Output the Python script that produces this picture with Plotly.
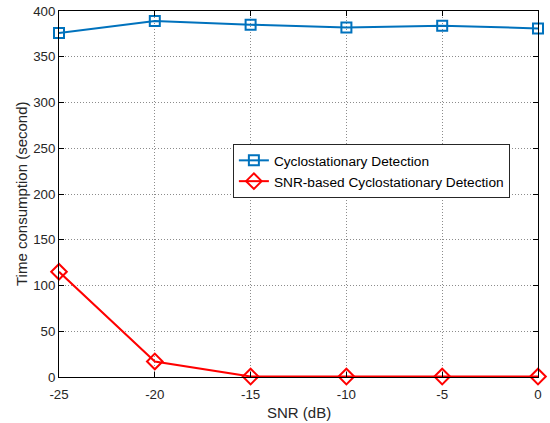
import plotly.graph_objects as go

snr = [-25, -20, -15, -10, -5, 0]
cyclo = [376, 389, 385, 382, 384, 381]
snr_cyclo = [115, 17, 0.5, 0.5, 0.5, 0.5]
x_ticks = [-25, -20, -15, -10, -5, 0]
x_labels = ["-25", "-20", "-15", "-10", "-5", "0"]
y_ticks = [0, 50, 100, 150, 200, 250, 300, 350, 400]

FONT = "Liberation Sans, Arial"
fig = go.Figure()
fig.add_trace(go.Scatter(x=snr, y=cyclo, mode="lines+markers", name="Cyclostationary Detection",
                         line=dict(color="#0072BD", width=2),
                         marker=dict(symbol="square-open", size=10, color="#0072BD", line=dict(width=2)),
                         cliponaxis=False))
fig.add_trace(go.Scatter(x=snr, y=snr_cyclo, mode="lines+markers", name="SNR-based Cyclostationary Detection",
                         line=dict(color="#FF0000", width=2),
                         marker=dict(symbol="diamond-open", size=12, color="#FF0000", line=dict(width=2)),
                         cliponaxis=False))

axis_common = dict(showline=True, linecolor="black", linewidth=1, mirror="ticks", ticks="inside",
                   ticklen=5, tickcolor="black", showgrid=True, gridcolor="#8c8c8c", griddash="1px,2px",
                   gridwidth=1, zeroline=False, automargin=False,
                   tickfont=dict(family=FONT, size=13.3, color="#262626"))

fig.update_xaxes(range=[-25, 0], tickvals=x_ticks, ticktext=x_labels, ticklabelstandoff=5, **axis_common)
fig.update_yaxes(range=[0, 400], tickvals=y_ticks, **axis_common)

fig.add_annotation(text="SNR (dB)", xref="paper", yref="paper", x=0.5, y=0, yshift=-35,
                   xanchor="center", yanchor="middle", showarrow=False,
                   font=dict(family=FONT, size=15, color="#262626"))
fig.add_annotation(text="Time consumption (second)", xref="paper", yref="paper", x=0, y=0.5, xshift=-38,
                   xanchor="center", yanchor="middle", showarrow=False, textangle=-90,
                   font=dict(family=FONT, size=15, color="#262626"))

fig.update_layout(width=550, height=423, margin=dict(l=59, r=12, t=11, b=46, autoexpand=False),
                  plot_bgcolor="white", paper_bgcolor="white",
                  legend=dict(x=0.363, y=0.563, xanchor="left", yanchor="middle", bgcolor="white",
                              bordercolor="#262626", borderwidth=1,
                              font=dict(family=FONT, size=13.7, color="black"),
                              tracegroupgap=0, itemwidth=30),
                  showlegend=True)

fig.write_html("out.html", config={"displayModeBar": False},
               post_script="document.body.style.margin='0';document.body.style.overflow='hidden';")
